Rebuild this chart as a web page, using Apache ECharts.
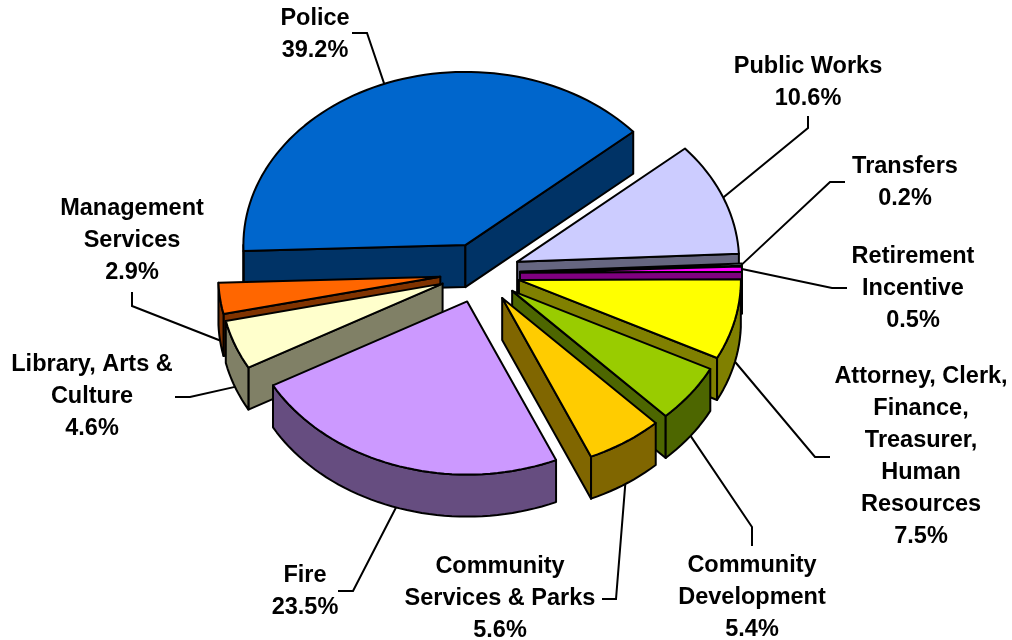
<!DOCTYPE html>
<html>
<head>
<meta charset="utf-8">
<style>html,body{margin:0;padding:0;background:#fff}#chart{width:1012px;height:640px}</style>
<script src="https://cdn.jsdelivr.net/npm/echarts@6/dist/echarts.min.js"></script>
</head>
<body>
<div id="chart"></div>
<script>
// Budget share by department, clockwise from the Police slice
var departments = ['Police', 'Public Works', 'Transfers', 'Retirement\nIncentive',
  'Attorney, Clerk,\nFinance,\nTreasurer,\nHuman\nResources', 'Community\nDevelopment',
  'Community\nServices & Parks', 'Fire', 'Library, Arts &\nCulture', 'Management\nServices'];
var shares = [39.2, 10.6, 0.2, 0.5, 7.5, 5.4, 5.6, 23.5, 4.6, 2.9];
var topColors = ['#0066CC', '#CCCCFF', '#CCFFFF', '#FF00FF', '#FFFF00', '#99CC00', '#FFCC00', '#CC99FF', '#FFFFCC', '#FF6600'];
var wallColors = ['#003366', '#666680', '#668080', '#800080', '#808000', '#4D6600', '#806600', '#664D80', '#808066', '#803300'];

// Painter's order for the extruded slices, back to front
var drawOrder = [0, 1, 2, 3, 4, 9, 8, 5, 6, 7];

// Label centres and leader-line elbows, one entry per department
var labelCentres = [[315, 35], [808, 83], [905, 183], [913, 289], [921, 457], [752, 598], [500, 599], [305, 592], [92, 397], [132, 241]];
var leaderElbows = [
  [[367, 33], [352, 33]], [[808, 128], [808, 116]], [[830, 182], [845, 182]], [[832, 288], [847, 288]],
  [[815, 457], [830, 457]], [[752, 527], [752, 546]], [[616, 599], [602, 599]], [[353, 591], [338, 591]],
  [[190, 397], [175, 397]], [[132, 306], [132, 292]]
];

// Projection of the tilted pie
var CX = 480, CY = 273, R = 222, TILT = 0.78, DEPTH = 42, EXPLODE = 40, EXPLODE_TILT = 0.75, START_DEG = -92;

var total = shares.reduce(function (a, b) { return a + b; }, 0);
var sliceAngles = [];
shares.reduce(function (acc, v) {
  var next = acc + v / total * 360;
  sliceAngles.push([acc, next]);
  return next;
}, START_DEG);

function sinDeg(d) { return Math.sin(d * Math.PI / 180); }
function cosDeg(d) { return Math.cos(d * Math.PI / 180); }
function onDisc(ox, oy, r, deg) {
  return [ox + r * sinDeg(deg), oy - TILT * r * cosDeg(deg)];
}
function apexOf(i) {
  var a = sliceAngles[i];
  var mid = (a[0] + a[1]) / 2;
  return [CX + EXPLODE * sinDeg(mid), CY - EXPLODE_TILT * EXPLODE * cosDeg(mid)];
}
function down(p) { return [p[0], p[1] + DEPTH]; }

function poly(points, fill) {
  return {
    type: 'polygon',
    shape: { points: points },
    style: { fill: fill, stroke: '#000', lineWidth: 2, lineJoin: 'round' }
  };
}

function renderSlice(params, api) {
  var i = api.value(0);
  var a = sliceAngles[i], apex = apexOf(i);
  var steps = Math.max(2, Math.ceil((a[1] - a[0]) / 2));
  var rim = [], frontRim = [];
  for (var s = 0; s <= steps; s++) {
    var deg = a[0] + (a[1] - a[0]) * s / steps;
    var p = onDisc(apex[0], apex[1], R, deg);
    rim.push(p);
    // Only the part of the outer wall that faces the viewer is drawn
    if (cosDeg(deg) <= 0.001) frontRim.push(p);
  }
  var first = rim[0], last = rim[rim.length - 1];
  var wall = wallColors[i];
  var parts = [];
  // A cut face shows when its outward normal points down the screen
  if (sinDeg(a[0]) < 0) parts.push(poly([apex, first, down(first), down(apex)], wall));
  if (sinDeg(a[1]) > 0) parts.push(poly([apex, last, down(last), down(apex)], wall));
  if (frontRim.length > 1) parts.push(poly(frontRim.concat(frontRim.slice().reverse().map(down)), wall));
  parts.push(poly([apex].concat(rim), topColors[i]));
  return { type: 'group', children: parts };
}

function renderLabel(params, api) {
  var i = api.value(0);
  var a = sliceAngles[i], apex = apexOf(i);
  var mid = (a[0] + a[1]) / 2;
  var anchor = onDisc(apex[0], apex[1], R, mid);
  if (cosDeg(mid) <= 0) anchor = down(anchor);
  var c = labelCentres[i];
  return {
    type: 'group',
    children: [
      {
        type: 'polyline',
        shape: { points: [anchor].concat(leaderElbows[i]) },
        style: { fill: 'none', stroke: '#000', lineWidth: 2 }
      },
      {
        type: 'text',
        style: {
          x: c[0], y: c[1],
          text: departments[i] + '\n' + shares[i].toFixed(1) + '%',
          align: 'center', verticalAlign: 'middle',
          font: 'bold 23.5px "Liberation Sans", Arial, sans-serif',
          lineHeight: 32, fill: '#000'
        }
      }
    ]
  };
}

var chart = echarts.init(document.getElementById('chart'), null, { renderer: 'canvas' });
chart.setOption({
  animation: false,
  backgroundColor: '#fff',
  series: [
    {
      type: 'custom', coordinateSystem: 'none', z: 2,
      renderItem: renderSlice,
      data: drawOrder.map(function (i) { return [i, shares[i]]; })
    },
    {
      type: 'custom', coordinateSystem: 'none', z: 1,
      renderItem: renderLabel,
      data: shares.map(function (v, i) { return [i, v]; })
    }
  ]
});
</script>
</body>
</html>
